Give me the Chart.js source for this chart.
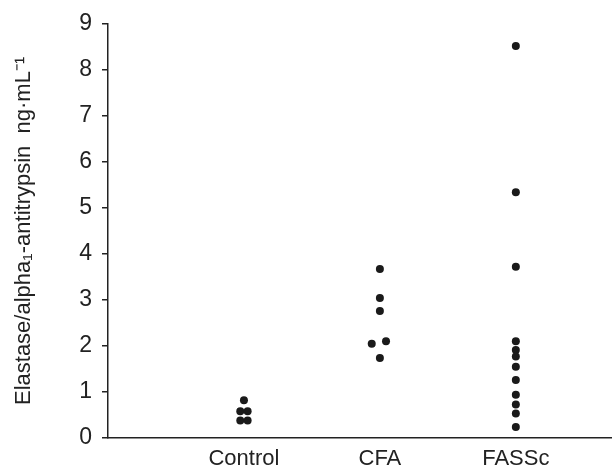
<!DOCTYPE html>
<html>
<head>
<meta charset="utf-8">
<script src="https://cdn.jsdelivr.net/npm/chart.js@4"></script>
<style>
  html, body { margin: 0; padding: 0; background: #fff; }
  #wrap { width: 615px; height: 471px; }
</style>
</head>
<body>
<div id="wrap"><canvas id="chart"></canvas></div>
<script>
// groups and their x positions on the category axis
const groups = ['Control', 'CFA', 'FASSc'];

// values (ng/mL), with small x jitter where dots sit side by side
const controlX = [1, 0.973, 1.027, 0.973, 1.027];
const controlY = [0.82, 0.58, 0.58, 0.38, 0.38];

const cfaX = [2, 2, 2, 1.94, 2.045, 2];
const cfaY = [3.67, 3.04, 2.76, 2.05, 2.10, 1.74];

const fasscX = [3, 3, 3, 3, 3, 3, 3, 3, 3, 3, 3, 3];
const fasscY = [8.52, 5.34, 3.72, 2.10, 1.91, 1.77, 1.55, 1.26, 0.94, 0.73, 0.53, 0.24];

const yTicks = [0, 1, 2, 3, 4, 5, 6, 7, 8, 9];

function toPoints(xs, ys) {
  return ys.map((y, i) => ({ x: xs[i], y: y }));
}

const font = "'Liberation Sans', Arial, sans-serif";
const ink = '#222';

const ctx = document.getElementById('chart').getContext('2d');
new Chart(ctx, {
  type: 'scatter',
  data: {
    datasets: [
      { data: toPoints(controlX, controlY) },
      { data: toPoints(cfaX, cfaY) },
      { data: toPoints(fasscX, fasscY) }
    ]
  },
  options: {
    responsive: true,
    maintainAspectRatio: false,
    animation: false,
    layout: { padding: { top: 23, right: 0, bottom: 0, left: 0 } },
    elements: {
      point: { radius: 4, backgroundColor: '#1a1a1a', borderWidth: 0, hoverRadius: 4 }
    },
    plugins: { legend: { display: false }, tooltip: { enabled: false } },
    scales: {
      x: {
        type: 'linear',
        min: 0,
        max: 3.7,
        afterBuildTicks: s => { s.ticks = [1, 2, 3].map(v => ({ value: v })); },
        afterFit: s => { s.height = 33; },
        ticks: {
          callback: v => groups[v - 1] || '',
          color: ink,
          font: { family: font, size: 22 },
          padding: 8,
          maxRotation: 0
        },
        grid: { display: false, drawTicks: false },
        border: { display: true, color: ink, width: 1.5 }
      },
      y: {
        min: 0,
        max: 9,
        afterBuildTicks: s => { s.ticks = yTicks.map(v => ({ value: v })); },
        afterFit: s => { s.width = 108; },
        ticks: {
          color: ink,
          font: { family: font, size: 23 },
          padding: 10
        },
        grid: { drawOnChartArea: false, drawTicks: true, tickLength: 6, color: ink, lineWidth: 1.5 },
        border: { display: true, color: ink, width: 1.5 },
        title: {
          display: true,
          text: 'Elastase/alpha\u2081-antitrypsin  ng\u00b7mL\u207b\u00b9',
          color: ink,
          font: { family: font, size: 22 },
          padding: { top: 11, bottom: 0 }
        }
      }
    }
  }
});
</script>
</body>
</html>
